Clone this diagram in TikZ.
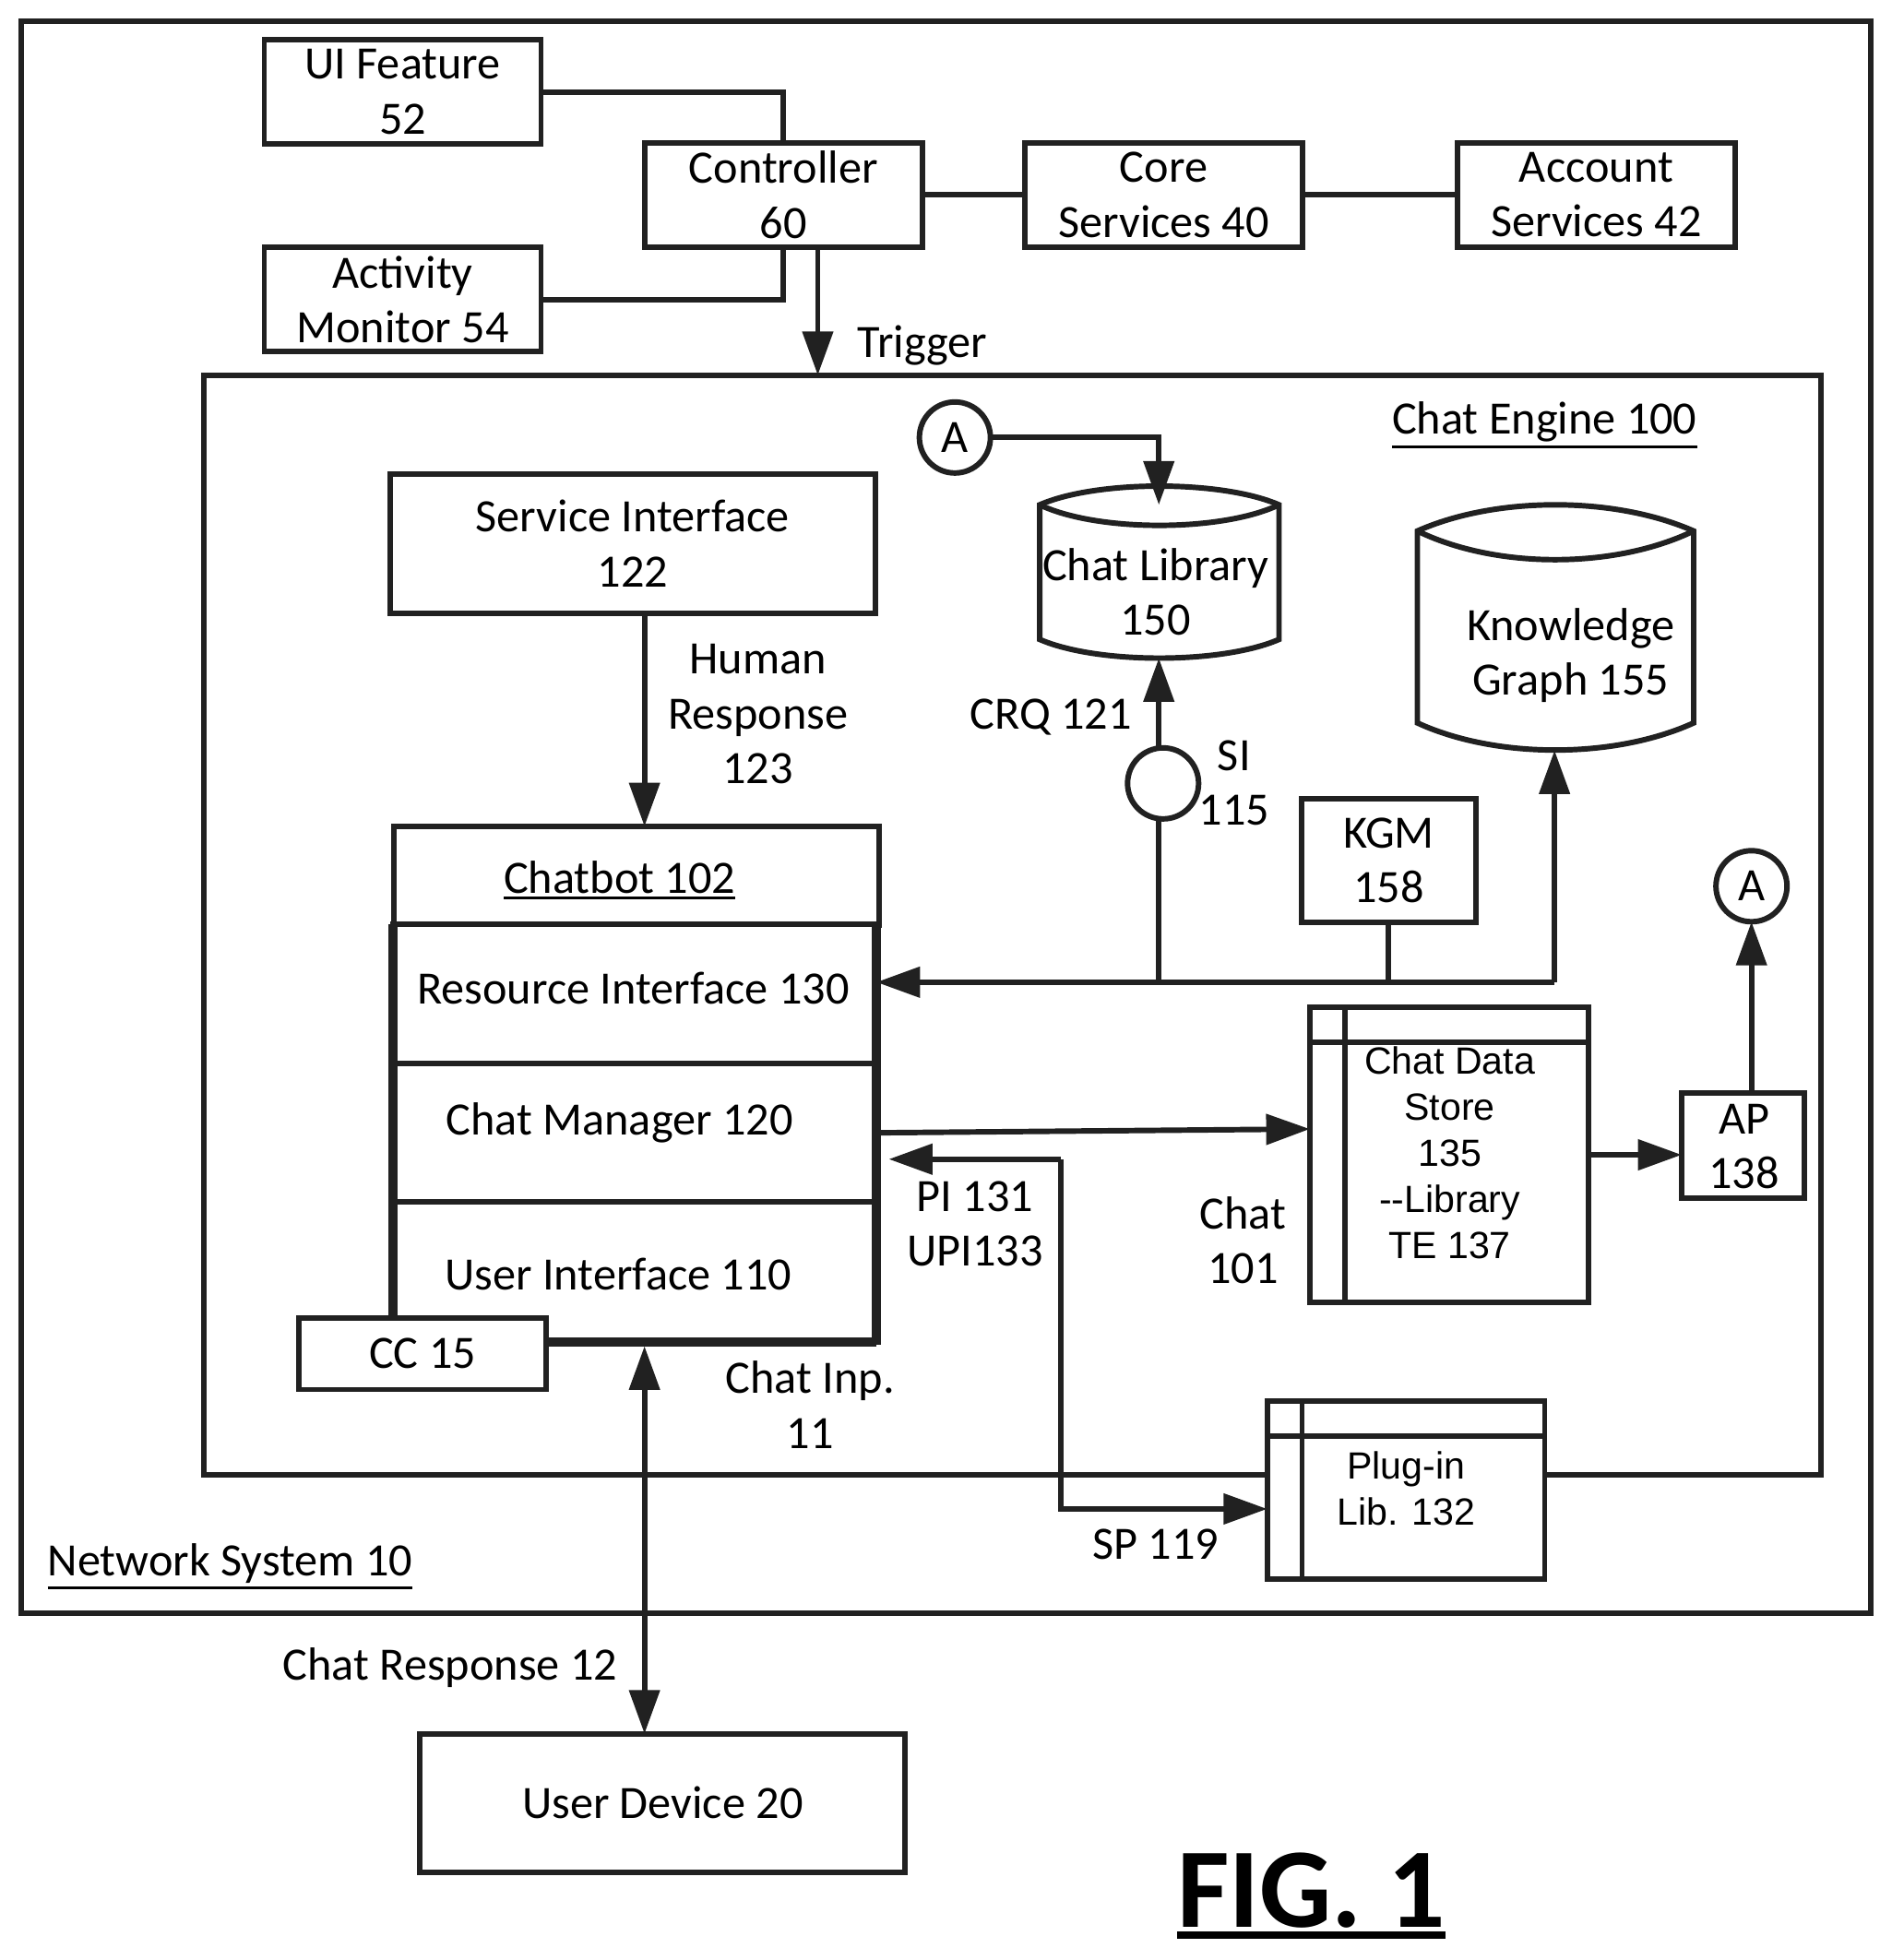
\documentclass[tikz,border=0pt]{standalone}
\usepackage{fontspec}
\setmainfont{Carlito}
\newfontfamily\arialf{Liberation Sans}
\usetikzlibrary{arrows.meta,calc}
\newcommand{\ultext}[2][1.2pt]{\leavevmode\vtop{\hbox{#2}\kern 1.2pt\hrule height #1}}
\definecolor{ink}{gray}{0.13}
\tikzset{
  x=0.5pt,y=-0.5pt,
  line/.style={draw=ink,line width=2.2pt,line join=miter},
  conn/.style={line,-{Triangle[length=17.5pt,width=12pt]}},
  biconn/.style={line,{Triangle[length=17.5pt,width=12pt]}-{Triangle[length=17.5pt,width=12pt]}},
  boxx/.style={line,fill=white,rectangle,inner sep=0pt,outer sep=0pt,align=center,font=\fontsize{18.6}{22}\selectfont},
  roundy/.style={line,fill=white,circle,inner sep=0pt,outer sep=0pt,minimum size=28.5pt,font=\fontsize{18.6}{22}\selectfont},
  lbl/.style={inner sep=0pt,outer sep=0pt,align=center,font=\fontsize{18.6}{22}\selectfont},
  smalllbl/.style={inner sep=0pt,outer sep=0pt,align=center,font=\arialf\fontsize{15.2}{18.5}\selectfont},
  thickwall/.style={draw=ink,line width=3.75pt,line cap=butt},
  ghost/.style={inner sep=0pt,outer sep=0pt,rectangle}
}
\begin{document}
\begin{tikzpicture}
\useasboundingbox (0,0) rectangle (1517,1572.5);
% frames
\node[boxx,minimum width=742pt,minimum height=638.5pt] (net) at (759,655.5) {};
\node[line,rectangle,inner sep=0pt,outer sep=0pt,minimum width=648.6pt,minimum height=441pt] (engine) at (812.1,742) {};
% top row
\node[boxx,minimum width=111pt,minimum height=41.75pt] (uif) at (323,73.75) {UI Feature\\52};
\node[boxx,minimum width=111.5pt,minimum height=41.75pt] (ctrl) at (628.5,156.25) {Controller\\60};
\node[boxx,minimum width=111.5pt,minimum height=41.75pt] (core) at (933.5,156.25) {Core\\Services 40};
\node[boxx,minimum width=111.5pt,minimum height=41.75pt] (acct) at (1280.5,156.25) {Account\\Services 42};
\node[boxx,minimum width=111pt,minimum height=41.75pt] (act) at (323,240.25) {Activity\\Monitor 54};
\draw[line] (uif.east) -| (ctrl.north);
\draw[line] (act.east) -| (ctrl.south);
\draw[line] (ctrl.east) -- (core.west);
\draw[line] (core.east) -- (acct.west);
\coordinate (trigX) at (656,198);
\draw[conn] (trigX) -- (trigX |- engine.north);
\node[lbl] (trigger) at (740,277) {Trigger};
\node[lbl] (enginelbl) at (1239,341) {\ultext{Chat Engine 100}};
% service interface
\node[boxx,minimum width=194.5pt,minimum height=55.75pt] (svc) at (507.5,436) {Service Interface\\122};
% chatbot stack
\node[boxx,minimum width=194.5pt,minimum height=39.5pt] (bot) at (510.5,702.5) {};
\node[lbl] (botlbl) at (497,706) {\ultext{Chatbot 102}};
\node[boxx,minimum width=194pt,minimum height=55.75pt] (res) at (509,797.25) {};
\node[boxx,minimum width=194pt,minimum height=55.5pt] (mgr) at (509,908.5) {};
\node[boxx,minimum width=194pt,minimum height=56.5pt] (ui) at (509,1020.5) {};
\draw[thickwall] (315,741.5) -- (315,1058);
\draw[thickwall] (703,741.5) -- (703,1078.9);
\draw[thickwall] (437,1077) -- (703,1077);
\node[lbl] (reslbl) at (508,793) {Resource Interface 130};
\node[lbl] (mgrlbl) at (497,901) {Chat Manager 120};
\node[lbl] (uilbl) at (496,1022) {User Interface 110};
\node[boxx,minimum width=99pt,minimum height=28.6pt] (cc) at (339,1086.2) {CC 15};
\coordinate (svcOut) at (517,492.5);
\draw[conn] (svcOut) -- (svcOut |- bot.north);
\node[lbl] (human) at (608,573) {Human\\Response\\123};
% chat library
\node[ghost,minimum width=96pt,minimum height=69pt] (lib) at (930,459) {};
\draw[line,fill=white] (834,405) .. controls (880,385) and (980,385) .. (1026,405)
  -- (1026,513) .. controls (980,533) and (880,533) .. (834,513) -- cycle;
\draw[line] (1026,405) .. controls (980,427) and (880,427) .. (834,405);
\node[lbl] (liblbl) at (927,475) {Chat Library\\150};
% knowledge graph
\node[ghost,minimum width=110.8pt,minimum height=98.5pt] (kg) at (1247.8,503.5) {};
\draw[line,fill=white] (1137,426) .. controls (1200,398) and (1295,398) .. (1358.6,426)
  -- (1358.6,580) .. controls (1295,609) and (1200,609) .. (1137,580) -- cycle;
\draw[line] (1358.6,426) .. controls (1295,456.7) and (1200,456.7) .. (1137,426);
\node[lbl] (kglbl) at (1260,526) {Knowledge\\Graph 155};
% A in
\node[roundy] (ain) at (766,351) {A};
\coordinate (libTop) at (929.6,405);
\draw[conn] (ain.east) -| (libTop);
% SI
\node[roundy] (si) at (933,628.5) {};
\coordinate (bus) at (929.6,788);
\draw[line] (bus) -- (bus |- si.south);
\draw[conn] (bus |- si.north) -- (bus |- lib.south);
\node[lbl] (crq) at (843,575) {CRQ 121};
\node[lbl] (silbl) at (990,628) {SI\\115};
% KGM
\node[boxx,minimum width=70pt,minimum height=49.5pt] (kgm) at (1114,690.5) {KGM\\158};
\coordinate (busE) at (1247,788);
\draw[conn] (busE) -- (bus) -- (bus -| res.east);
\draw[conn] (busE) -- (busE |- kg.south);
\draw[line] (kgm.south) -- (kgm.south |- busE);
% chat data store
\node[boxx,minimum width=111.6pt,minimum height=118.5pt] (store) at (1162.5,926.5) {};
\coordinate (stV) at (1079,808);
\coordinate (stH) at (1050.7,836);
\draw[line] (stV) -- (stV |- store.south);
\draw[line] (stH) -- (stH -| store.east);
\node[smalllbl] (storelbl) at (1163,925) {Chat Data\\Store\\135\\--Library\\TE 137};
\coordinate (mgrOut) at (706.7,908.8);
\coordinate (storeIn) at (1050.7,905.8);
\draw[conn] (mgrOut) -- (storeIn);
\node[lbl] (chat101) at (997,995) {Chat\\101};
% AP
\node[boxx,minimum width=49.3pt,minimum height=42pt] (ap) at (1398.3,919) {};
\node[lbl] (aplbl) at (1399,920) {AP\\138};
\coordinate (stOut) at (1274,926.5);
\draw[conn] (stOut) -- (stOut -| ap.west);
\node[roundy] (aout) at (1405,711) {A};
\coordinate (apTop) at (1405,877);
\draw[conn] (apTop) -- (aout.south);
% plug-in
\node[boxx,minimum width=111.3pt,minimum height=71.5pt] (plug) at (1127.8,1195.5) {};
\coordinate (plV) at (1044.5,1124);
\coordinate (plH) at (1016.5,1152);
\draw[line] (plV) -- (plV |- plug.south);
\draw[line] (plH) -- (plH -| plug.east);
\node[smalllbl] (pluglbl) at (1128,1194) {Plug-in\\Lib. 132};
\coordinate (piTip) at (713,930);
\coordinate (piCorner) at (851,930);
\coordinate (plugIn) at (1016.5,1210.6);
\draw[conn] (piCorner) -- (piTip);
\draw[conn] (piCorner) |- (plugIn);
\node[lbl] (pilbl) at (782,982) {PI 131\\UPI133};
\node[lbl] (splbl) at (927,1239) {SP 119};
\node[lbl] (inplbl) at (650,1127) {Chat Inp.\\11};
% user device
\node[boxx,minimum width=194.5pt,minimum height=55.5pt] (dev) at (531.5,1446.5) {User Device 20};
\coordinate (uiBot) at (517,1080);
\draw[biconn] (uiBot) -- (uiBot |- dev.north);
\node[lbl] (resp) at (361,1338) {Chat Response 12};
\node[lbl] (netlbl) at (184.5,1257) {\ultext{Network System 10}};
% figure label
\node[inner sep=0pt,outer sep=0pt] (fig) at (1052,1521) {\fontsize{45.5}{50}\selectfont\bfseries\ultext[3pt]{FIG. 1}};
\end{tikzpicture}
\end{document}
